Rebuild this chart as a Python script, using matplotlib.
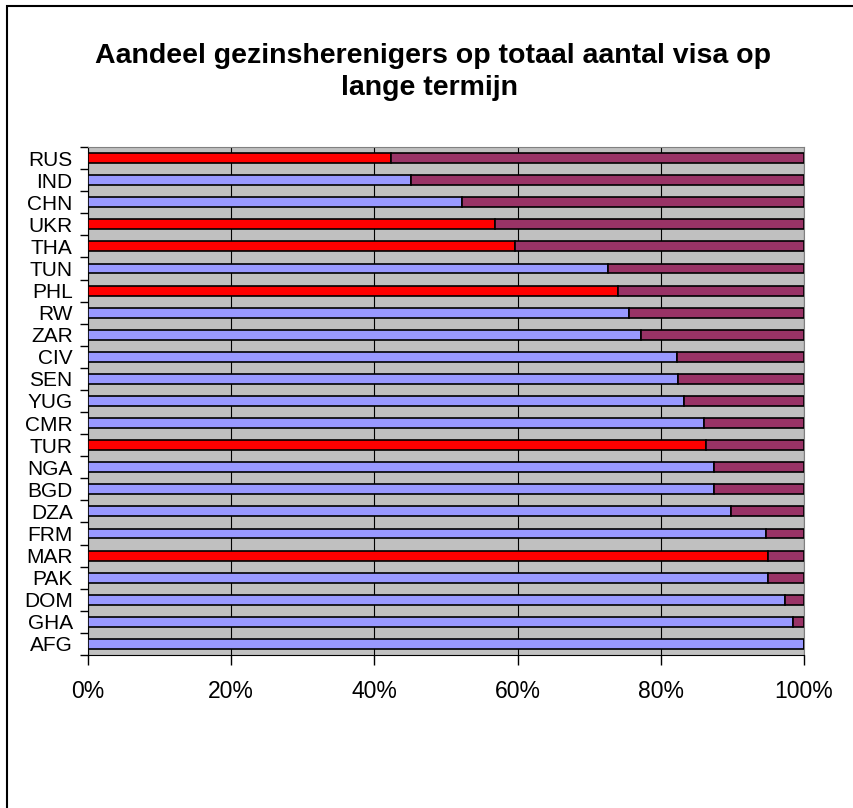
import matplotlib.pyplot as plt
from matplotlib.patches import Rectangle

# landen van boven naar onder
landen = ['RUS', 'IND', 'CHN', 'UKR', 'THA', 'TUN', 'PHL', 'RW', 'ZAR', 'CIV', 'SEN', 'YUG',
          'CMR', 'TUR', 'NGA', 'BGD', 'DZA', 'FRM', 'MAR', 'PAK', 'DOM', 'GHA', 'AFG']
# aandeel gezinsherenigers (%)
aandeel = [42.3, 45.1, 52.2, 56.8, 59.6, 72.6, 74.0, 75.6, 77.2, 82.2, 82.4, 83.2,
           86.1, 86.3, 87.4, 87.4, 89.8, 94.7, 95.0, 95.0, 97.3, 98.4, 100.0]
# overige visa (%)
overig = [100 - a for a in aandeel]
# rood gemarkeerde landen
rood = ['RUS', 'UKR', 'THA', 'PHL', 'TUR', 'MAR']

kleur1 = ['#FF0000' if l in rood else '#9999FF' for l in landen]

plt.rcParams['font.family'] = ['Liberation Sans', 'DejaVu Sans']

fig = plt.figure(figsize=(8.54, 8.08), dpi=100)
ax = fig.add_axes([88/854, 1 - 655/808, (804 - 88)/854, (655 - 147)/808])
ax.set_facecolor('#C0C0C0')

y = list(range(len(landen)))
ax.barh(y, aandeel, height=0.45, color=kleur1, edgecolor='black', linewidth=1.2, zorder=3)
ax.barh(y, overig, left=aandeel, height=0.45, color='#993366', edgecolor='black', linewidth=1.2, zorder=3)

ax.set_xlim(0, 100)
ax.set_ylim(len(landen) - 0.5, -0.5)

ax.set_xticks([0, 20, 40, 60, 80, 100])
ax.set_xticklabels(['0%', '20%', '40%', '60%', '80%', '100%'], fontsize=16.5)
ax.tick_params(axis='x', length=7, width=1, pad=11)
ax.grid(axis='x', color='black', linewidth=0.8, zorder=1)

ax.set_yticks([i + 0.5 for i in range(-1, len(landen))])
ax.set_yticklabels([])
ax.set_yticks(y, minor=True)
ax.set_yticklabels(landen, minor=True, fontsize=15)
ax.tick_params(axis='y', which='major', length=6, width=1)
ax.tick_params(axis='y', which='minor', length=0, pad=11)

for s in ['top', 'right']:
    ax.spines[s].set_color('#808080')
for s in ['left', 'bottom']:
    ax.spines[s].set_color('black')

fig.text(433/854, 1 - 56/808, 'Aandeel gezinsherenigers op totaal aantal visa op',
         ha='center', va='center', fontsize=20.5, fontweight='bold')
fig.text(430/854, 1 - 88/808, 'lange termijn',
         ha='center', va='center', fontsize=20.5, fontweight='bold')

fig.patches.append(Rectangle((7/854, -0.1), 1.2, 1.1 - 6/808, transform=fig.transFigure,
                             fill=False, edgecolor='black', linewidth=1.5))

plt.savefig('out.png', dpi=100)
